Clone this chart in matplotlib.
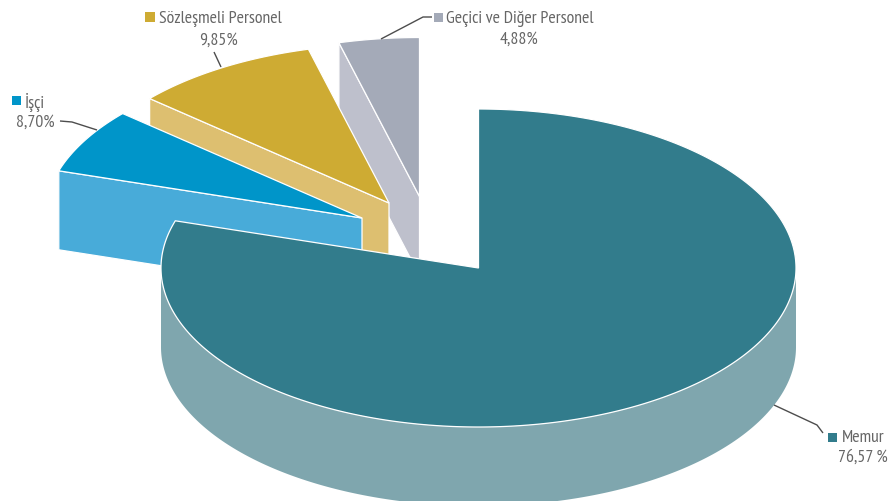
import numpy as np
import matplotlib
matplotlib.use("Agg")
import matplotlib.pyplot as plt
from matplotlib import font_manager as fm

# ---- data (clockwise from 12 o'clock) ----
categories = ["Memur", "İşçi", "Sözleşmeli Personel", "Geçici ve Diğer Personel"]
shares = [76.57, 8.70, 9.85, 4.88]
share_labels = ["76,57 %", "8,70%", "9,85%", "4,88%"]

# ---- styling / layout ----
top_colors = ["#327C8C", "#0095C9", "#CEAB33", "#A4AAB8"]
side_colors = ["#7FA6AE", "#48ABD9", "#DDBF70", "#BEC0CC"]
# the source drawing distorts its sweep a little relative to the shares
sweep_scale = [1.042, 0.76, 0.965, 0.837]
explode = [(0, 0), (-116.5, -50), (-89.5, -65), (-59, -71.5)]
CX, CY, RX, RY, DEPTH = 478.5, 268.0, 317.5, 159.0, 79.0
TEXT = "#666666"
LEADER = "#4D4D4D"

installed = {f.name for f in fm.fontManager.ttflist}
families = [n for n in ("PT Sans Narrow", "Roboto Condensed", "Liberation Sans")
            if n in installed] + ["DejaVu Sans"]
plt.rcParams["font.family"] = families

fig = plt.figure(figsize=(8.9, 5.01), dpi=100)
ax = fig.add_axes([0, 0, 1, 1])
ax.set_xlim(0, 890)
ax.set_ylim(501, 0)
ax.axis("off")


def rim(cx, cy, t0, t1, n=200):
    t = np.radians(np.linspace(t0, t1, n))
    return cx + RX * np.cos(t), cy - RY * np.sin(t)


# cumulative angles: clockwise, starting at the top
sweeps = [360 * s / sum(shares) * k for s, k in zip(shares, sweep_scale)]
sweeps = [w * 360 / sum(sweeps) for w in sweeps]
starts = 90 - np.concatenate([[0], np.cumsum(sweeps)[:-1]])
ends = starts - np.array(sweeps)

# exploded slices, back to front: Geçici -> Sözleşmeli -> İşçi
order = 10
for i in (3, 2, 1):
    cx, cy = CX + explode[i][0], CY + explode[i][1]
    a0, a1 = ends[i] % 360, starts[i] % 360
    x, y = rim(cx, cy, a0, a1)
    # the visible cut face lies along the slice's left-most radial edge
    k = 0 if x[0] < x[-1] else -1
    lx, ly = x[k], y[k]
    ax.fill([cx, lx, lx, cx], [cy, ly, ly + DEPTH, cy + DEPTH],
            fc=side_colors[i], ec="white", lw=0.9, zorder=order)
    ax.fill(np.r_[cx, x], np.r_[cy, y], fc=top_colors[i], ec="white", lw=0.9, zorder=order + 1)
    order += 2

# main slice: outer wall then top
wx, wy = rim(CX, CY, 0, -180)
ax.fill(np.r_[wx, wx[::-1]], np.r_[wy, wy[::-1] + DEPTH], fc=side_colors[0], ec="none", zorder=20)
x, y = rim(CX, CY, starts[0], ends[0], 600)
ax.fill(np.r_[CX, x], np.r_[CY, y], fc=top_colors[0], ec="white", lw=0.9, zorder=21)

# legend-style labels
squares = [(828, 433, 9), (12, 96, 9), (145, 12, 10), (434, 13, 9)]
name_pos = [(842, 437.5), (25, 102.5), (159, 18.5), (446, 18.5)]
value_pos = [(863, 458), (35, 123), (219, 41), (518.5, 40)]
leaders = [
    ([774, 817, 823], [405, 425, 433]),
    ([60, 72, 97], [121, 122, 130]),
    ([214, 221], [52, 67]),
    ([381, 423, 432], [39, 17, 17]),
]
FS = 12.8
for i, cat in enumerate(categories):
    sx, sy, ss = squares[i]
    ax.fill([sx, sx + ss, sx + ss, sx], [sy, sy, sy + ss, sy + ss],
            fc=top_colors[i], ec="none", zorder=30)
    nx, ny = name_pos[i]
    ax.text(nx, ny, cat, color=TEXT, fontsize=FS, ha="left", va="center", zorder=30)
    vx, vy = value_pos[i]
    ax.text(vx, vy, share_labels[i], color=TEXT, fontsize=FS, ha="center", va="center", zorder=30)
    ax.plot(*leaders[i], color=LEADER, lw=1.0, zorder=30, solid_capstyle="butt")

fig.savefig("out.png", dpi=100, facecolor="white")
